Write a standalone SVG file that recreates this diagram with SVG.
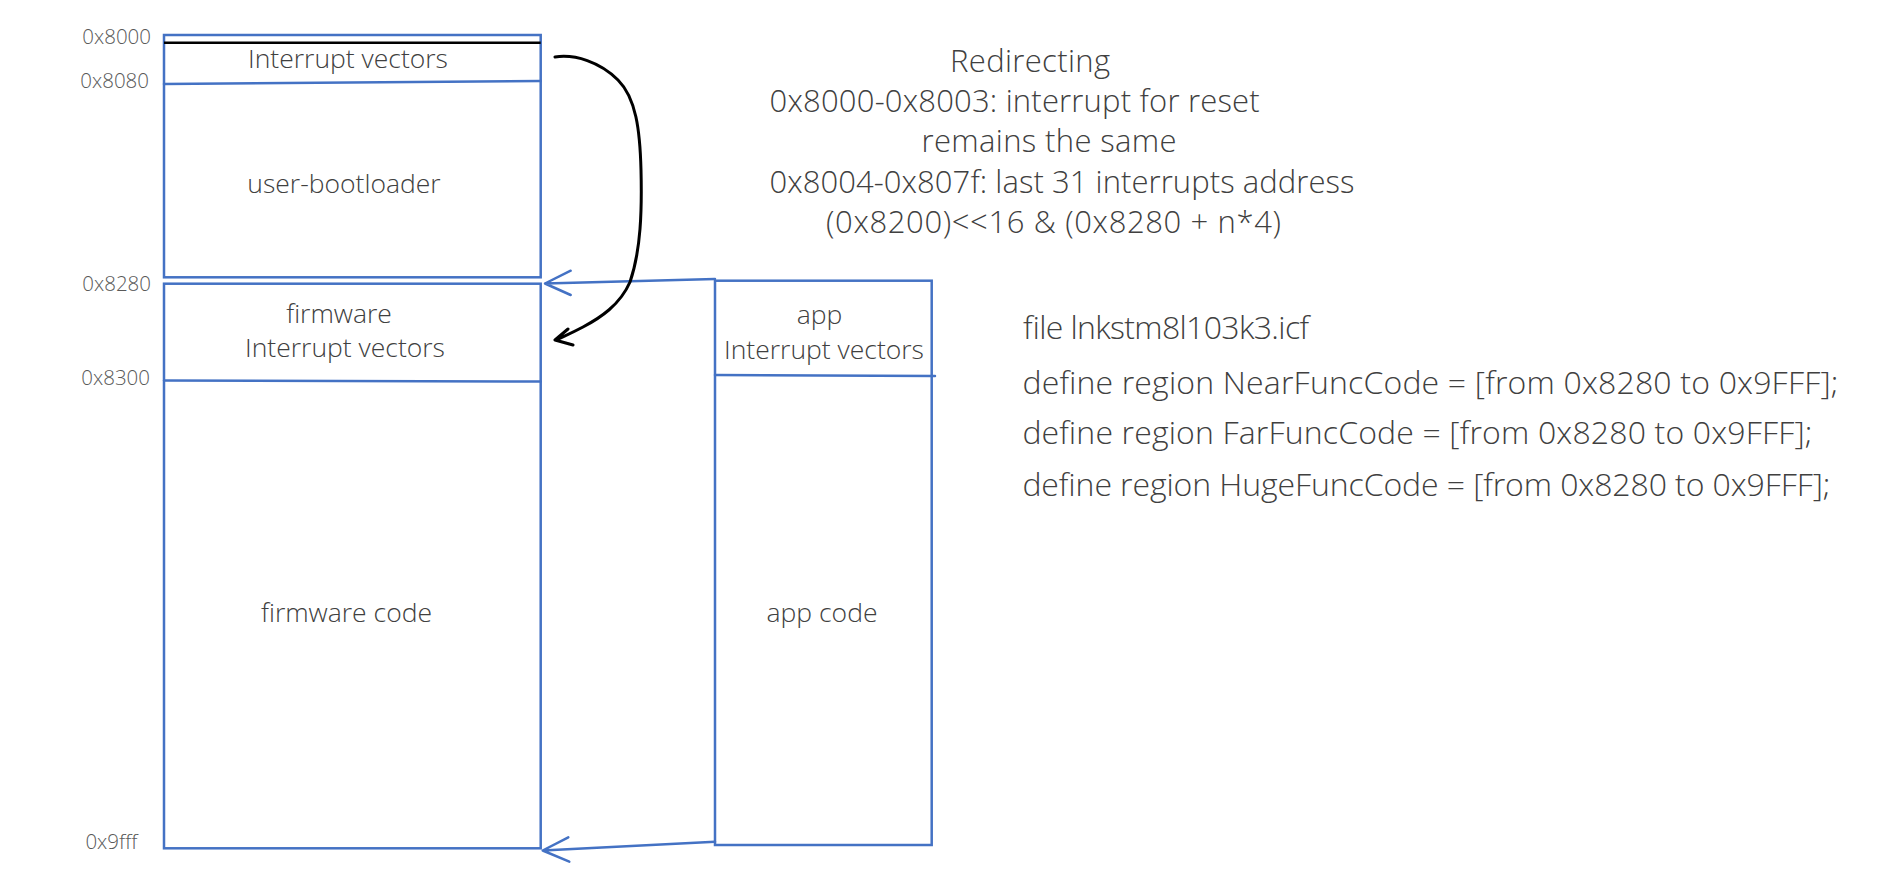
<svg xmlns="http://www.w3.org/2000/svg" width="1899" height="888" viewBox="0 0 1899 888">
<style>
.box{fill:none;stroke:#4472C4;stroke-width:2.5}
.bl{stroke:#4472C4;stroke-width:2.5;fill:none;stroke-linecap:round;stroke-linejoin:round}
.blk{stroke:#000;stroke-width:3;fill:none;stroke-linecap:round;stroke-linejoin:round}
text{font-family:"Open Sans","Segoe UI","Liberation Sans",sans-serif;font-weight:300;fill:#404040}
.addr{font-size:20.5px;fill:#595959;text-anchor:end}
.lbl{font-size:26.5px;text-anchor:middle}
.note{font-size:31px;text-anchor:middle}
.code{font-size:32px}
</style>
<rect x="0" y="0" width="1899" height="888" fill="#fff"/>
<g id="addresses">
<text class="addr" x="151" y="44">0x8000</text>
<text class="addr" x="149" y="88">0x8080</text>
<text class="addr" x="151" y="291">0x8280</text>
<text class="addr" x="150" y="385">0x8300</text>
<text class="addr" x="137.5" y="849">0x9fff</text>
</g>
<g id="bootloader">
<rect class="box" x="164" y="35" width="376.7" height="242.3"/>
<line x1="164" y1="42.7" x2="540.7" y2="42.7" stroke="#000" stroke-width="2.5"/>
<line class="bl" x1="164" y1="84" x2="540.7" y2="81"/>
<text class="lbl" x="348" y="68">Interrupt vectors</text>
<text class="lbl" x="344" y="193">user-bootloader</text>
</g>
<g id="firmware">
<rect class="box" x="164" y="283.7" width="376.7" height="564.6"/>
<line class="bl" x1="164" y1="380.5" x2="540.7" y2="381.5"/>
<text class="lbl" x="339" y="323">firmware</text>
<text class="lbl" x="345" y="357">Interrupt vectors</text>
<text class="lbl" x="346.5" y="622">firmware code</text>
</g>
<g id="app">
<rect class="box" x="715" y="280.7" width="216.7" height="564.3"/>
<line class="bl" x1="715" y1="375" x2="935" y2="376"/>
<text class="lbl" x="819.5" y="324">app</text>
<text class="lbl" x="824" y="359">Interrupt vectors</text>
<text class="lbl" x="822" y="622">app code</text>
</g>
<g id="connectors">
<path class="bl" d="M715,279 L545,283.5 M570.7,270.7 L545,283.5 L570.7,295"/>
<path class="bl" d="M715,841.7 L542.7,850.5 M568.3,837.3 L542.7,850.5 L569.3,861.7"/>
<path class="blk" d="M555,57 C575,54 600,62 618,80 C636,98 640,130 641,170 C642,210 641,250 630,282 C620,305 600,318 583,327 C570,334 562,337 556,340 M568,329 L555,340 L573,345"/>
</g>
<g id="redirect-note">
<text class="note" x="1030" y="72" textLength="160">Redirecting</text>
<text class="note" x="1014.6" y="112" textLength="490">0x8000-0x8003: interrupt for reset</text>
<text class="note" x="1049" y="152" textLength="255">remains the same</text>
<text class="note" x="1062" y="193" textLength="585">0x8004-0x807f: last 31 interrupts address</text>
<text class="note" x="1053.5" y="233" textLength="455">(0x8200)&lt;&lt;16 &amp; (0x8280 + n*4)</text>
</g>
<g id="icf-note">
<text class="code" x="1022.4" y="339" textLength="286">file lnkstm8l103k3.icf</text>
<text class="code" x="1022.4" y="394" textLength="816">define region NearFuncCode = [from 0x8280 to 0x9FFF];</text>
<text class="code" x="1022.4" y="444" textLength="790">define region FarFuncCode = [from 0x8280 to 0x9FFF];</text>
<text class="code" x="1022.4" y="496" textLength="808">define region HugeFuncCode = [from 0x8280 to 0x9FFF];</text>
</g>
</svg>
